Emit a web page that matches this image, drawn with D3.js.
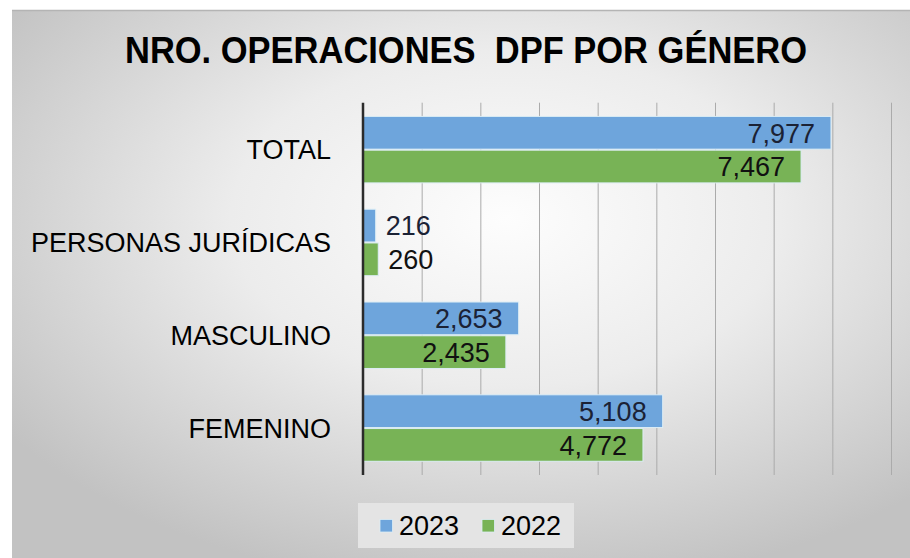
<!DOCTYPE html>
<html>
<head>
<meta charset="utf-8">
<script src="https://cdn.jsdelivr.net/npm/d3@7"></script>
<style>
  body { margin: 0; background: #fff; }
  svg { display: block; font-family: "Liberation Sans", Arial, sans-serif; }
</style>
</head>
<body>
<div id="chart"></div>
<script>
// datos
var categorias = ["TOTAL", "PERSONAS JURÍDICAS", "MASCULINO", "FEMENINO"];
var series = ["2023", "2022"];
var valores2023 = [7977, 216, 2653, 5108];
var valores2022 = [7467, 260, 2435, 4772];
var ticksX = [1000, 2000, 3000, 4000, 5000, 6000, 7000, 8000, 9000];
var titulo = "NRO. OPERACIONES  DPF POR GÉNERO";

var colores = { "2023": "#6ea5dc", "2022": "#78b356" };

var width = 910, height = 558;

var svg = d3.select("#chart").append("svg")
    .attr("width", width)
    .attr("height", height);

// fondo con degradado radial
var grad = svg.append("defs").append("radialGradient")
    .attr("id", "fondo")
    .attr("cx", "55%").attr("cy", "38%").attr("r", "68%");
grad.append("stop").attr("offset", "0%").attr("stop-color", "#fdfdfd");
grad.append("stop").attr("offset", "45%").attr("stop-color", "#ececec");
grad.append("stop").attr("offset", "100%").attr("stop-color", "#c2c2c2");

svg.append("rect")
    .attr("x", 12).attr("y", 10)
    .attr("width", width - 12).attr("height", height - 10)
    .attr("fill", "url(#fondo)");
svg.append("line")
    .attr("x1", 12).attr("x2", width)
    .attr("y1", 10.5).attr("y2", 10.5)
    .attr("stroke", "#b4b4b4")
    .attr("stroke-width", 1.5);

// titulo (doble espacio antes de DPF)
svg.append("text")
    .attr("x", 125).attr("y", 63)
    .attr("textLength", 682)
    .attr("lengthAdjust", "spacingAndGlyphs")
    .style("white-space", "pre")
    .style("font-family", '"Liberation Sans Narrow", "Liberation Sans", Arial, sans-serif')
    .style("font-weight", "bold")
    .style("font-size", "36px")
    .attr("fill", "#000")
    .text(titulo);

// escalas
var x = d3.scaleLinear().domain([0, 9000]).range([363, 891]);
var y = d3.scaleBand().domain(categorias).range([102.7, 475])
    .paddingInner(0.262).paddingOuter(0.137);
var y1 = d3.scaleBand().domain(series).range([0, y.bandwidth()]).padding(0.03);

// lineas de division
svg.append("g")
    .attr("transform", "translate(0,475)")
    .call(d3.axisBottom(x).tickValues(ticksX).tickSize(-(475 - 102.7)).tickFormat(""))
    .call(function(g) {
      g.select(".domain").remove();
      g.selectAll(".tick line").attr("stroke", "#ababab").attr("stroke-width", 1);
    });

var datos = categorias.map(function(c, i) {
  return { cat: c, vals: [
    { serie: "2023", v: valores2023[i] },
    { serie: "2022", v: valores2022[i] }
  ]};
});

var grupos = svg.selectAll("g.grupo").data(datos).enter()
    .append("g")
    .classed("grupo", true)
    .attr("transform", function(d) { return "translate(0," + y(d.cat) + ")"; });

grupos.selectAll("rect").data(function(d) { return d.vals; }).enter()
    .append("rect")
    .attr("x", x(0))
    .attr("y", function(d) { return y1(d.serie); })
    .attr("width", function(d) { return x(d.v) - x(0); })
    .attr("height", y1.bandwidth())
    .attr("fill", function(d) { return colores[d.serie]; })
    .attr("stroke", "#dcedf5")
    .attr("stroke-width", 1);

grupos.selectAll("text").data(function(d) { return d.vals; }).enter()
    .append("text")
    .attr("x", function(d) { return (x(d.v) - x(0)) > 80 ? x(d.v) - 16 : x(d.v) + 10; })
    .attr("y", function(d) { return y1(d.serie) + y1.bandwidth() / 2; })
    .attr("dy", "0.36em")
    .attr("text-anchor", function(d) { return (x(d.v) - x(0)) > 80 ? "end" : "start"; })
    .style("font-size", "27px")
    .attr("fill", function(d) { return d.serie === "2023" ? "#1b2235" : "#111"; })
    .text(function(d) { return d3.format(",")(d.v); });

// etiquetas de categoria
svg.selectAll("text.cat").data(categorias).enter()
    .append("text")
    .classed("cat", true)
    .attr("x", 331)
    .attr("y", function(d) { return y(d) + y.bandwidth() / 2; })
    .attr("dy", "0.36em")
    .attr("text-anchor", "end")
    .style("font-size", "27px")
    .attr("fill", "#000")
    .text(function(d) { return d; });

// eje vertical
svg.append("line")
    .attr("x1", x(0)).attr("x2", x(0))
    .attr("y1", 102.7).attr("y2", 475)
    .attr("stroke", "#2b2b2b")
    .attr("stroke-width", 2.5);

// leyenda
var leyenda = svg.append("g");
leyenda.append("rect")
    .attr("x", 358).attr("y", 503)
    .attr("width", 216).attr("height", 45)
    .attr("fill", "#e4e4e4");
var posLeyenda = [380, 482];
series.forEach(function(s, i) {
  leyenda.append("rect")
    .attr("x", posLeyenda[i]).attr("y", 519.5)
    .attr("width", 12.5).attr("height", 12.5)
    .attr("fill", colores[s])
    .attr("stroke", "#dcedf5")
    .attr("stroke-width", 0.8);
  leyenda.append("text")
    .attr("x", posLeyenda[i] + 19).attr("y", 535)
    .style("font-size", "27px")
    .attr("fill", "#000")
    .text(s);
});
</script>
</body>
</html>
